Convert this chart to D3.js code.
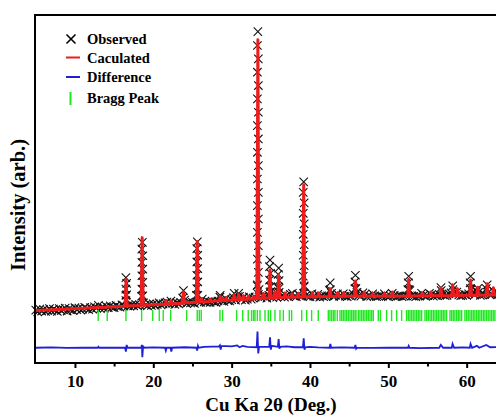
<!DOCTYPE html>
<html>
<head>
<meta charset="utf-8">
<script src="https://cdn.jsdelivr.net/npm/d3@7"></script>
<style>
  html, body { margin: 0; padding: 0; background: #fff; }
  svg { display: block; font-family: "Liberation Serif", "Times New Roman", serif; font-weight: bold; }
</style>
</head>
<body>
<div id="chart"></div>
<script>
// x ticks (70 lies past the visible edge)
const xTicks = [10, 20, 30, 40, 50, 60];
const xMinorTicks = [15, 25, 35, 45, 55, 65];

// observed background band, one value every 0.25 deg starting at 5 deg
const obsStart = 5;
const obsStep = 0.25;
const obsBase = [
    2050, 1850, 2150, 1950,  2100, 1900, 2000, 2200,  1950, 2150, 2050, 1900,
    2200, 2000, 2100, 2250,  1950, 2200, 2100, 2000,  2300, 2100, 2250, 2050,
    2150, 2350, 2200, 2100,  2300, 2150, 2400, 2250,  2550, 2200, 2350, 2250,
    2450, 2300, 2500, 2350,  2300, 2550, 2400, 2350,  2600, 2450, 3600, 2500,
    2450, 2600, 2500, 2650,  2500, 2600, 3500, 2800,  2600, 2500, 2700, 2550,
    2700, 2550, 2650, 2800,  2600, 2700, 2800, 2900,  2700, 3000, 2750, 2650,
    2800, 2700, 2850, 3300,  3100, 2750, 2900, 2800,  2850, 2750, 3600, 2950,
    2850, 3200, 2900, 2850,  2950, 2850, 3000, 2900,  2850, 3000, 3400, 3050,
    2950, 3250, 3050, 3000,  3150, 3350, 3100, 3450,  3500, 3150, 3400, 3100,
    3200, 3450, 3200, 3300,  3400, 4600, 4200, 3350,  3500, 3450, 3300, 3600,
    4000, 3350, 3700, 3400,  4300, 3450, 3550, 3400,  3550, 3450, 3700, 3800,
    3500, 3450, 3700, 3550,  3500, 4500, 3600, 3500,  3450, 3750, 3500, 3450,
    3700, 3400, 3550, 3450,  3500, 3550, 4100, 3800,  3450, 3600, 3750, 3500,
    3550, 3750, 3500, 3450,  3550, 3500, 3750, 4300,  3900, 3600, 3500, 3850,
    3700, 3450, 3550, 3500,  3750, 3550, 3450, 3500,  3550, 3500, 3750, 3500,
    3450, 3550, 3800, 3600,  3450, 3500, 3550, 3450,  3500, 3550, 4200, 4100,
    3550, 3500, 3450, 3550,  3500, 3800, 3600, 3500,  3550, 3800, 3650, 3500,
    3600, 3550, 3700, 4100,  3650, 3550, 3600, 3750,  3850, 4200, 3800, 3950,
    3650, 3550, 3600, 3700,  3600, 3750, 4300, 3900,  3650, 4000, 3900, 3600,
    3650, 3700, 4300, 3900,  3650, 3700, 4000, 3750,  3700
];

// observed points on the peak flanks [2theta, intensity]
const peakObs = [
    [16.5, 5450], [16.6, 4850], [16.5, 4250], [16.6, 3650], [16.5, 3050],
    [18.6, 9150], [18.54, 8450], [18.66, 7750], [18.54, 7050], [18.66, 6350],
    [18.54, 5650], [18.66, 4950], [18.54, 4250], [18.66, 3550],
    [25.62, 9200], [25.56, 8500], [25.68, 7800], [25.56, 7100], [25.68, 6400],
    [25.56, 5700], [25.68, 5000], [25.56, 4300], [25.68, 3600],
    [33.35, 31250], [33.29, 29800], [33.41, 28400], [33.29, 27000], [33.41, 25600],
    [33.29, 24200], [33.41, 22800], [33.29, 21400], [33.41, 20000], [33.29, 18600],
    [33.41, 17200], [33.29, 15800], [33.41, 14400], [33.29, 13000], [33.41, 11600],
    [33.29, 10200], [33.41, 8800], [33.29, 7400], [33.41, 6000], [33.29, 4700], [33.41, 3700],
    [34.9, 7300], [34.84, 6600], [34.96, 5900], [34.84, 5200], [34.96, 4500], [34.9, 3900],
    [36.0, 6450], [35.94, 5800], [36.06, 5150], [35.94, 4500], [36.06, 3900],
    [39.2, 15500], [39.14, 14400], [39.26, 13300], [39.14, 12200], [39.26, 11100],
    [39.14, 10000], [39.26, 8900], [39.14, 7800], [39.26, 6700], [39.14, 5600],
    [39.26, 4600], [39.2, 3800],
    [42.58, 4900], [42.58, 4200],
    [45.8, 5700], [45.74, 5000], [45.86, 4300],
    [52.6, 5600], [52.54, 4900], [52.66, 4200],
    [60.5, 5600], [60.44, 4900], [60.56, 4200],
    [23.85, 4100], [56.72, 4400], [58.22, 4600], [62.62, 4700], [61.42, 4300],
    [30.9, 3800], [30.32, 3800], [28.54, 3600]
];

// calculated profile vertices [2theta, intensity]
const calcPoints = [
    [5, 2000], [8, 2120], [12.85, 2310], [12.97, 2420], [13.09, 2320],
    [14.0, 2360], [14.12, 2450], [14.24, 2370],
    [16.4, 2460], [16.53, 5250], [16.66, 2470],
    [18.45, 2540], [18.58, 9650], [18.71, 2560],
    [19.9, 2600], [20.0, 2700], [20.1, 2610],
    [21.5, 2660], [21.62, 3050], [21.74, 2670],
    [22.15, 2690], [22.27, 3000], [22.39, 2700],
    [23.7, 2770], [23.85, 3950], [24.0, 2800], [24.3, 2900], [24.45, 2810],
    [25.48, 2870], [25.61, 9250], [25.74, 2880],
    [26.05, 2900], [26.15, 3250], [26.27, 2900],
    [27.2, 2960], [27.3, 3150], [27.4, 2970],
    [28.42, 3020], [28.54, 3500], [28.66, 3030], [28.85, 3250], [28.97, 3040],
    [29.2, 3060], [29.3, 3350], [29.42, 3070],
    [30.2, 3110], [30.32, 3650], [30.44, 3120],
    [30.78, 3140], [30.9, 3700], [31.02, 3150],
    [31.38, 3160], [31.5, 3550], [31.62, 3170],
    [32.0, 3180], [32.12, 3500], [32.24, 3190],
    [32.7, 3220], [32.82, 3450], [32.94, 3230],
    [33.22, 3240], [33.35, 30400], [33.48, 3260],
    [33.95, 3280], [34.07, 3800], [34.19, 3290],
    [34.78, 3310], [34.9, 6250], [35.02, 3320],
    [35.4, 3330], [35.52, 3950], [35.64, 3340],
    [35.88, 3350], [36.0, 5700], [36.12, 3360],
    [36.7, 3380], [36.82, 3850], [36.94, 3390],
    [37.6, 3400], [37.72, 3750], [37.84, 3410],
    [38.4, 3420], [38.52, 3800], [38.64, 3420],
    [39.07, 3430], [39.2, 15200], [39.33, 3440],
    [40.2, 3450], [40.32, 3900], [40.44, 3450],
    [41.0, 3460], [41.12, 3850], [41.24, 3460],
    [42.45, 3470], [42.58, 4300], [42.71, 3470],
    [43.4, 3480], [43.52, 3850], [43.64, 3480],
    [44.2, 3490], [44.32, 3900], [44.44, 3490],
    [45.68, 3500], [45.8, 5100], [45.92, 3500],
    [46.8, 3500], [46.92, 3950], [47.04, 3500],
    [47.9, 3500], [48.02, 3800], [48.14, 3500],
    [49.4, 3500], [49.52, 3800], [49.64, 3500],
    [50.4, 3500], [50.52, 3950], [50.64, 3500],
    [52.48, 3520], [52.6, 5250], [52.72, 3520],
    [54.2, 3540], [54.32, 3850], [54.44, 3540],
    [55.3, 3550], [55.42, 3950], [55.54, 3550],
    [56.6, 3560], [56.72, 4400], [56.84, 3560],
    [58.1, 3580], [58.22, 4700], [58.34, 3580],
    [58.7, 3580], [58.82, 4300], [58.94, 3580],
    [60.38, 3600], [60.5, 5200], [60.62, 3600],
    [61.3, 3610], [61.42, 4450], [61.54, 3610],
    [62.5, 3630], [62.62, 4800], [62.74, 3630],
    [63.3, 3640], [63.42, 4400], [63.54, 3640],
    [66, 3680], [70, 3720]
];

// difference (obs - calc) vertices [2theta, intensity], drawn at an offset
const diffOffset = -1900;
const diffPoints = [
    [5, 0], [7, 30], [9, -20], [11, 20], [12.9, 0], [13.0, 100], [13.1, 0],
    [15, 20], [16.4, 0], [16.5, -400], [16.6, 300], [16.7, 0],
    [18.45, 0], [18.55, 300], [18.6, -1000], [18.7, 200], [18.8, 0],
    [20, 30], [21.5, 0], [21.6, -300], [21.7, 0], [22.2, 0], [22.3, -400], [22.4, 0],
    [24, 50], [25.5, 0], [25.6, -300], [25.7, 200], [25.8, 0], [26.5, 100],
    [28.4, 150], [28.5, 250], [28.6, -200], [28.7, 200], [30, 150], [30.7, 250], [31, 50],
    [31.4, 200], [32, 100], [33.2, 50], [33.3, 1700], [33.4, -600], [33.5, 100],
    [34.8, 100], [34.9, 1100], [35.0, -200], [35.1, 200], [35.9, 100], [36.0, 900],
    [36.1, -100], [36.2, 100], [37, 150], [38, 50], [39.1, 50], [39.2, 1000], [39.3, -200],
    [39.4, 50], [40, 100], [41, 30], [42.5, 0], [42.6, 400], [42.7, 0], [44, 30],
    [45.7, 0], [45.8, 300], [45.9, -100], [46, 0], [48, -20], [50, 0], [51, 20],
    [52.5, 0], [52.6, 200], [52.7, 0], [54, -30], [56.5, 0], [56.7, 300], [57, 0],
    [58.1, 0], [58.2, 400], [58.4, 0], [59.5, 30], [60.4, 0], [60.5, 400], [60.7, 0],
    [61.3, 200], [61.6, 0], [62.5, 300], [63, 50], [64, 80], [70, 80]
];

// Bragg reflection positions
const braggPos = [
    12.97, 14.12, 16.51, 18.51, 19.92, 20.76, 21.27, 22.22, 24.26, 25.61, 25.87, 26.12,
    28.51, 28.85, 30.64, 31.41, 32.12,
    32.55, 32.8, 32.98, 33.28, 33.62, 34.26, 34.68, 34.98, 35.53, 36.17, 36.6, 37.36, 37.66,
    38.94, 39.58, 40.21, 41.06,
    42.34, 42.55, 42.77, 43.0, 43.19, 43.49, 43.83, 44.05, 44.26, 44.47, 44.68, 44.9, 45.11,
    45.32, 45.53, 45.75, 45.87, 46.17, 46.38, 46.6, 46.81, 47.02, 47.24, 47.45, 47.66, 47.87, 48.08,
    48.72, 49.0, 49.78, 50.42, 51.06, 51.7,
    52.33, 52.55, 52.76, 52.97, 53.18, 53.4, 53.61, 53.82, 54.03, 54.25,
    54.68, 54.9, 55.11, 55.32, 55.53, 55.75, 55.96, 56.17,
    56.38, 56.6, 56.81, 57.02, 57.23, 57.44,
    57.87, 58.08, 58.29, 58.5, 58.72, 58.93, 59.14, 59.36,
    59.78, 59.99, 60.2, 60.42, 60.63, 60.84, 61.05, 61.27, 61.48, 61.69, 61.9, 62.12,
    62.33, 62.54, 62.75, 62.97, 63.18, 63.39, 63.6, 63.82, 64.03
];

const legendItems = [
    { label: "Observed", kind: "cross" },
    { label: "Caculated", kind: "red" },
    { label: "Difference", kind: "blue" },
    { label: "Bragg Peak", kind: "bragg" }
];

const width = 496;
const height = 415;
const plot = { left: 35, top: 15, right: 545, bottom: 363 };

const svg = d3.select("#chart")
    .append("svg")
    .attr("width", width)
    .attr("height", height);

const x = d3.scaleLinear().domain([4.9, 70]).range([plot.left, plot.right]);
const y = d3.scaleLinear().domain([-3500, 33000]).range([plot.bottom, plot.top]);

const g = svg.append("g");

// observed crosses
const obsAll = obsBase.map((v, i) => [obsStart + i * obsStep, v]).concat(peakObs);
const cs = 4.2;
g.append("g")
    .selectAll("path")
    .data(obsAll)
    .enter()
    .append("path")
    .attr("d", d => {
        const px = x(d[0]), py = y(d[1]);
        return `M${px - cs},${py - cs}L${px + cs},${py + cs}M${px - cs},${py + cs}L${px + cs},${py - cs}`;
    })
    .attr("stroke", "#111")
    .attr("stroke-width", 1.1)
    .attr("fill", "none");

// calculated
const line = d3.line().x(d => x(d[0])).y(d => y(d[1]));
g.append("path")
    .datum(calcPoints)
    .attr("d", line)
    .attr("fill", "none")
    .attr("stroke", "#ee1c1c")
    .attr("stroke-width", 3)
    .attr("stroke-linejoin", "round");

// Bragg ticks
g.append("g")
    .selectAll("line")
    .data(braggPos)
    .enter()
    .append("line")
    .attr("x1", d => x(d))
    .attr("x2", d => x(d))
    .attr("y1", 310)
    .attr("y2", 321)
    .attr("stroke", "#1ee81e")
    .attr("stroke-width", 1.4);

// difference
g.append("path")
    .datum(diffPoints)
    .attr("d", d3.line().x(d => x(d[0])).y(d => y(d[1] + diffOffset)))
    .attr("fill", "none")
    .attr("stroke", "#1f1fd6")
    .attr("stroke-width", 1.8);

// frame
svg.append("rect")
    .attr("x", plot.left)
    .attr("y", plot.top)
    .attr("width", plot.right - plot.left)
    .attr("height", plot.bottom - plot.top)
    .attr("fill", "none")
    .attr("stroke", "#000")
    .attr("stroke-width", 2);

// axes
const xAxis = svg.append("g")
    .attr("transform", `translate(0,${plot.bottom})`)
    .call(d3.axisBottom(x).tickValues(xTicks).tickSize(5).tickPadding(7).tickFormat(d3.format("d")));
xAxis.select(".domain").remove();
xAxis.selectAll("line").attr("stroke-width", 2);
xAxis.selectAll("text")
    .attr("font-family", "Liberation Serif, serif")
    .attr("font-weight", "bold")
    .attr("font-size", 17)
    .attr("fill", "#000");

const xMinor = svg.append("g")
    .attr("transform", `translate(0,${plot.bottom})`)
    .call(d3.axisBottom(x).tickValues(xMinorTicks).tickSize(3.5).tickFormat(""));
xMinor.select(".domain").remove();
xMinor.selectAll("line").attr("stroke-width", 2);

svg.append("text")
    .attr("x", 271)
    .attr("y", 411)
    .attr("text-anchor", "middle")
    .attr("font-size", 19)
    .text("Cu Ka 2\u03b8 (Deg.)");

svg.append("text")
    .attr("transform", "translate(25,205) rotate(-90)")
    .attr("text-anchor", "middle")
    .attr("font-size", 20.5)
    .text("Intensity (arb.)");

// legend
const legendY = [39, 57.5, 77, 98];
const lg = svg.append("g");
legendItems.forEach((item, i) => {
    const cy = legendY[i];
    if (item.kind === "cross") {
        lg.append("path")
            .attr("d", `M66.5,${cy - 4.5}L75.5,${cy + 4.5}M66.5,${cy + 4.5}L75.5,${cy - 4.5}`)
            .attr("stroke", "#000").attr("stroke-width", 1.6);
    } else if (item.kind === "red" || item.kind === "blue") {
        lg.append("line")
            .attr("x1", 66).attr("x2", 80).attr("y1", cy).attr("y2", cy)
            .attr("stroke", item.kind === "red" ? "#ee1c1c" : "#1f1fd6")
            .attr("stroke-width", 2);
    } else {
        lg.append("line")
            .attr("x1", 70.5).attr("x2", 70.5).attr("y1", cy - 6).attr("y2", cy + 7)
            .attr("stroke", "#1ee81e").attr("stroke-width", 2);
    }
    lg.append("text")
        .attr("x", 87)
        .attr("y", cy + 5)
        .attr("font-size", 14.5)
        .text(item.label);
});
</script>
</body>
</html>
